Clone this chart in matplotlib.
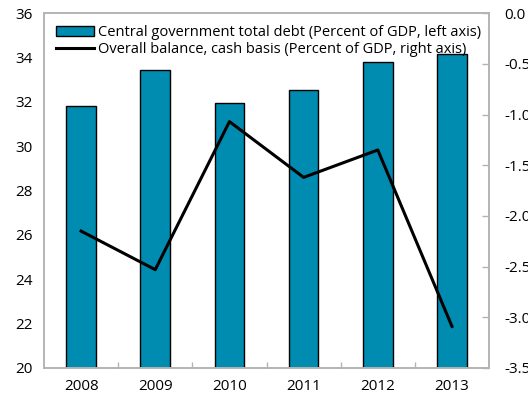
import matplotlib
matplotlib.use('Agg')
import matplotlib.pyplot as plt
import matplotlib.patches as mpatches
from matplotlib.lines import Line2D
import numpy as np

years = ['2008', '2009', '2010', '2011', '2012', '2013']
debt = [31.8, 33.45, 31.95, 32.55, 33.8, 34.15]
balance = [-2.15, -2.53, -1.07, -1.62, -1.35, -3.09]

left_ticks = [20, 22, 24, 26, 28, 30, 32, 34, 36]
right_ticks = [0.0, -0.5, -1.0, -1.5, -2.0, -2.5, -3.0, -3.5]

plt.rcParams['font.family'] = ['Open Sans', 'DejaVu Sans']

bar_colour = '#008bb0'
spine_colour = '#b3b3b3'

fig = plt.figure(figsize=(5.28, 4.01), dpi=100)
ax = fig.add_axes([0.0833, 0.0823, 0.843, 0.885])
x = np.arange(len(years))

ax.bar(x, debt, width=0.4, color=bar_colour, edgecolor='k', linewidth=1.0, zorder=2)
ax.set_ylim(20, 36)
ax.set_xlim(-0.5, len(years) - 0.5)
ax.set_yticks(left_ticks)
ax.set_xticks(x)
ax.set_xticklabels(years)
ax.set_xticks(np.arange(0.5, len(years) - 0.5), minor=True)
ax.tick_params(axis='x', which='major', length=0, labelsize=11, pad=8)
ax.tick_params(axis='x', which='minor', direction='in', length=4, color=spine_colour, width=1)
ax.tick_params(axis='y', length=0, labelsize=11, pad=8)

ax2 = ax.twinx()
ax2.plot(x, balance, color='k', linewidth=2.2, zorder=3)
ax2.set_ylim(-3.5, 0.0)
ax2.set_yticks(right_ticks)
ax2.set_yticklabels(['%.1f' % t for t in right_ticks])
ax2.tick_params(axis='y', direction='in', length=5, color=spine_colour, width=1, labelsize=11, pad=11)

for a in (ax, ax2):
    for s in a.spines.values():
        s.set_color(spine_colour)
        s.set_linewidth(1.2)

handles = [mpatches.Patch(facecolor=bar_colour, edgecolor='k', linewidth=1.0),
           Line2D([0], [0], color='k', linewidth=2.2)]
labels = ['Central government total debt (Percent of GDP, left axis)',
          'Overall balance, cash basis (Percent of GDP, right axis)']
ax2.legend(handles, labels, loc='upper left', bbox_to_anchor=(0.0, 1.0), frameon=False,
           fontsize=10.5, handlelength=2.6, handletextpad=0.3, labelspacing=0.15,
           borderaxespad=0.5, borderpad=0.3)

plt.savefig('out.png', dpi=100)
